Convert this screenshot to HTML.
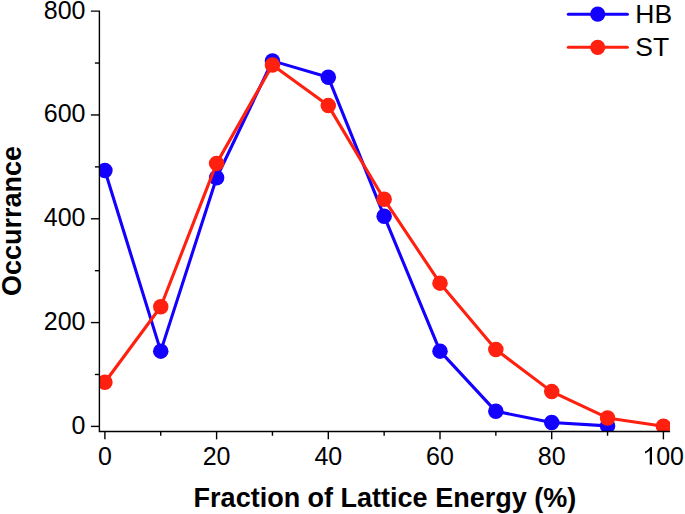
<!DOCTYPE html>
<html><head><meta charset="utf-8"><style>
html,body{margin:0;padding:0;background:#fff;}
body{width:685px;height:514px;overflow:hidden;font-family:"Liberation Sans",sans-serif;}
svg{display:block;}
</style></head><body>
<svg width="685" height="514" viewBox="0 0 685 514">
<rect width="685" height="514" fill="#fff"/>
<defs><clipPath id="c"><rect x="99.4" y="0" width="570.6" height="431.55"/></clipPath></defs>
<g clip-path="url(#c)"><polyline points="104.90,170.50 160.75,351.14 216.60,177.77 272.45,60.88 328.30,77.33 384.15,216.18 440.00,351.14 495.85,411.35 551.70,422.51 607.55,425.88" fill="none" stroke="#1400ff" stroke-width="3.1" stroke-linejoin="round"/><circle cx="104.90" cy="170.50" r="7.75" fill="#1400ff"/><circle cx="160.75" cy="351.14" r="7.75" fill="#1400ff"/><circle cx="216.60" cy="177.77" r="7.75" fill="#1400ff"/><circle cx="272.45" cy="60.88" r="7.75" fill="#1400ff"/><circle cx="328.30" cy="77.33" r="7.75" fill="#1400ff"/><circle cx="384.15" cy="216.18" r="7.75" fill="#1400ff"/><circle cx="440.00" cy="351.14" r="7.75" fill="#1400ff"/><circle cx="495.85" cy="411.35" r="7.75" fill="#1400ff"/><circle cx="551.70" cy="422.51" r="7.75" fill="#1400ff"/><circle cx="607.55" cy="425.88" r="7.75" fill="#1400ff"/></g>
<g clip-path="url(#c)"><polyline points="104.90,382.28 160.75,306.76 216.60,163.39 272.45,65.03 328.30,105.62 384.15,199.31 440.00,283.14 495.85,349.58 551.70,391.62 607.55,417.94 663.40,426.19" fill="none" stroke="#ff2010" stroke-width="3.1" stroke-linejoin="round"/><circle cx="104.90" cy="382.28" r="7.75" fill="#ff2010"/><circle cx="160.75" cy="306.76" r="7.75" fill="#ff2010"/><circle cx="216.60" cy="163.39" r="7.75" fill="#ff2010"/><circle cx="272.45" cy="65.03" r="7.75" fill="#ff2010"/><circle cx="328.30" cy="105.62" r="7.75" fill="#ff2010"/><circle cx="384.15" cy="199.31" r="7.75" fill="#ff2010"/><circle cx="440.00" cy="283.14" r="7.75" fill="#ff2010"/><circle cx="495.85" cy="349.58" r="7.75" fill="#ff2010"/><circle cx="551.70" cy="391.62" r="7.75" fill="#ff2010"/><circle cx="607.55" cy="417.94" r="7.75" fill="#ff2010"/><circle cx="663.40" cy="426.19" r="7.75" fill="#ff2010"/></g>
<g stroke="#000" stroke-width="1.4" fill="none">
<path d="M90.9,11.15H99.4V431.55H670"/>
<line x1="90.9" y1="426.40" x2="99.4" y2="426.40"/>
<line x1="94.9" y1="374.49" x2="99.4" y2="374.49"/>
<line x1="90.9" y1="322.59" x2="99.4" y2="322.59"/>
<line x1="94.9" y1="270.68" x2="99.4" y2="270.68"/>
<line x1="90.9" y1="218.78" x2="99.4" y2="218.78"/>
<line x1="94.9" y1="166.87" x2="99.4" y2="166.87"/>
<line x1="90.9" y1="114.96" x2="99.4" y2="114.96"/>
<line x1="94.9" y1="63.06" x2="99.4" y2="63.06"/>
<line x1="104.90" y1="431.55" x2="104.90" y2="439.35"/>
<line x1="160.75" y1="431.55" x2="160.75" y2="435.75"/>
<line x1="216.60" y1="431.55" x2="216.60" y2="439.35"/>
<line x1="272.45" y1="431.55" x2="272.45" y2="435.75"/>
<line x1="328.30" y1="431.55" x2="328.30" y2="439.35"/>
<line x1="384.15" y1="431.55" x2="384.15" y2="435.75"/>
<line x1="440.00" y1="431.55" x2="440.00" y2="439.35"/>
<line x1="495.85" y1="431.55" x2="495.85" y2="435.75"/>
<line x1="551.70" y1="431.55" x2="551.70" y2="439.35"/>
<line x1="607.55" y1="431.55" x2="607.55" y2="435.75"/>
<line x1="663.40" y1="431.55" x2="663.40" y2="439.35"/>
</g>
<g font-family="&quot;Liberation Sans&quot;, sans-serif" font-size="25" fill="#000">
<text x="85.5" y="433.55" text-anchor="end">0</text>
<text x="85.5" y="330.24" text-anchor="end">200</text>
<text x="85.5" y="225.93" text-anchor="end">400</text>
<text x="85.5" y="122.11" text-anchor="end">600</text>
<text x="85.5" y="18.70" text-anchor="end">800</text>
<text x="104.90" y="464.6" text-anchor="middle">0</text>
<text x="216.60" y="464.6" text-anchor="middle">20</text>
<text x="328.30" y="464.6" text-anchor="middle">40</text>
<text x="440.00" y="464.6" text-anchor="middle">60</text>
<text x="551.70" y="464.6" text-anchor="middle">80</text>
</g>
<text x="684.00" y="464.6" text-anchor="end" font-family="&quot;Liberation Sans&quot;, sans-serif" font-size="25">00</text>
<path d="M652.0,446.9 L652.0,464.4 L649.75,464.4 L649.75,450.6 C648.6,451.7 646.9,452.8 645.0,453.6 L645.0,451.5 C647.3,450.3 649.1,448.7 650.5,446.9 Z" fill="#000"/>
<text x="384.9" y="506.8" text-anchor="middle" font-family="&quot;Liberation Sans&quot;, sans-serif" font-weight="bold" font-size="27">Fraction of Lattice Energy (%)</text>
<text transform="translate(21.2 220.9) rotate(-90)" text-anchor="middle" font-family="&quot;Liberation Sans&quot;, sans-serif" font-weight="bold" font-size="27">Occurrance</text>
<line x1="568.3" y1="14.2" x2="627.4" y2="14.2" stroke="#1400ff" stroke-width="3" stroke-linecap="round"/>
<circle cx="597.7" cy="14.2" r="7.6" fill="#1400ff"/>
<text x="635.3" y="22.70" font-family="&quot;Liberation Sans&quot;, sans-serif" font-size="26.5">HB</text>
<line x1="568.3" y1="47.3" x2="627.4" y2="47.3" stroke="#ff2010" stroke-width="3" stroke-linecap="round"/>
<circle cx="597.7" cy="47.3" r="7.6" fill="#ff2010"/>
<text x="635.3" y="55.80" font-family="&quot;Liberation Sans&quot;, sans-serif" font-size="26.5">ST</text>
</svg>
</body></html>
